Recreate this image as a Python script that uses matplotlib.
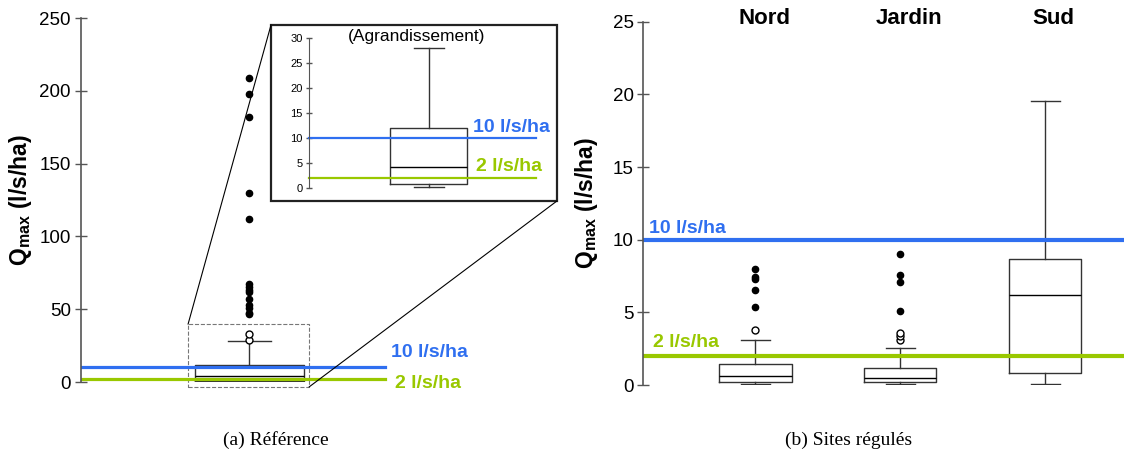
import matplotlib
matplotlib.use("Agg")
import matplotlib.pyplot as plt
from matplotlib.patches import Rectangle, ConnectionPatch

plt.rcParams['font.family'] = ['Liberation Sans', 'DejaVu Sans']
plt.rcParams['mathtext.fontset'] = 'custom'
plt.rcParams['mathtext.rm'] = 'Liberation Sans'
plt.rcParams['mathtext.bf'] = 'Liberation Sans:bold'

# --- data ---
# (a) reference site: box stats + outliers
ref_stats = dict(q1=0.8, med=4.1, q3=11.9, whislo=0.2, whishi=28.0)
ref_open = [28.8, 33.0]
ref_far = [209, 198, 182, 130, 112, 67.5, 65.5, 63.5, 61.5, 57, 53, 51, 47.5, 46.5]

# (b) regulated sites
sites = ["Nord", "Jardin", "Sud"]
site_q1 = [0.2, 0.2, 0.8]
site_med = [0.65, 0.5, 6.2]
site_q3 = [1.42, 1.17, 8.7]
site_lo = [0.05, 0.05, 0.1]
site_hi = [3.1, 2.57, 19.55]
site_open = [[3.8], [3.1, 3.35, 3.6], []]
site_far = [[5.4, 6.55, 7.3, 7.45, 7.95], [5.1, 7.1, 7.6, 9.05], []]

thresholds = [10, 2]
thr_labels = ["10 l/s/ha", "2 l/s/ha"]
thr_colors = ["#2f6ff0", "#99c800"]

box_kw = dict(boxprops=dict(color="#333333", lw=1.0),
              whiskerprops=dict(color="#333333", lw=1.0),
              capprops=dict(color="#333333", lw=1.0),
              medianprops=dict(color="black", lw=1.0),
              flierprops=dict(marker="o", mfc="white", mec="black", ms=5, mew=1),
              manage_ticks=False)

ylab = r"$\mathbf{Q_{max}}$ (l/s/ha)"

fig = plt.figure(figsize=(11.24, 4.57), dpi=100)

# ---------------- (a) Référence ----------------
ax = fig.add_axes([0.0721, 0.1641, 0.4262, 0.7965])
ax.set_xlim(0, 1)
ax.set_ylim(0, 250)
ax.set_yticks(range(0, 251, 50))
ax.set_xticks([])
for s in ["top", "right", "bottom"]:
    ax.spines[s].set_visible(False)
ax.spines["left"].set_color("#555555")
ax.spines["left"].set_linewidth(1.2)
ax.tick_params(axis="y", direction="inout", length=8.5, width=1, color="#555555",
               labelsize=13.5, pad=3)
ax.set_ylabel(ylab, fontsize=16.5, fontweight="bold")
ax.yaxis.set_label_coords(-0.098, 0.5)

st = dict(ref_stats, fliers=ref_open)
ax.bxp([st], positions=[0.351], widths=0.2276, capwidths=0.09, **box_kw)
ax.plot([0.351] * len(ref_far), ref_far, "o", color="black", ms=4.5)

ytr = ax.get_yaxis_transform()
for val, lab, col, ly, lx in zip(thresholds, thr_labels, thr_colors, [20.5, -0.7], [0.647, 0.656]):
    ax.axhline(val, xmin=0, xmax=0.635, color=col, lw=2.3)
    ax.text(lx, ly, lab, transform=ytr, color=col, fontsize=14, fontweight="bold",
            va="center", ha="left", clip_on=False)

rx0, rx1, ry0, ry1 = 0.2234, 0.476, -3.4, 39.7
ax.add_patch(Rectangle((rx0, ry0), rx1 - rx0, ry1 - ry0, transform=ytr, fill=False,
                       ls="--", lw=0.8, ec="#777777", clip_on=False))

# inset (zoom)
axi = fig.add_axes([0.2411, 0.5602, 0.2544, 0.3851])
axi.set_xlim(0, 1)
axi.set_ylim(-2.67, 32.67)
axi.set_xticks([])
axi.set_yticks(range(0, 31, 5))
for s in ["top", "right", "bottom"]:
    axi.spines[s].set_visible(False)
axi.spines["left"].set_position(("axes", 0.1329))
axi.spines["left"].set_bounds(0, 30)
axi.spines["left"].set_color("#555555")
axi.tick_params(axis="y", direction="inout", length=5, width=1, color="#555555",
                labelsize=8, pad=2)
axi.add_patch(Rectangle((0, 0), 1, 1, transform=axi.transAxes, fill=False,
                        lw=1.6, ec="#222222", clip_on=False))
axi.bxp([dict(ref_stats, fliers=[])], positions=[0.5524], widths=0.269, capwidths=0.108,
        **box_kw)
ytri = axi.get_yaxis_transform()
for val, lab, col, ly, lx in zip(thresholds, thr_labels, thr_colors, [12.0, 4.2], [0.705, 0.717]):
    axi.plot([0.1329, 0.9266], [val, val], transform=ytri, color=col, lw=1.6)
    axi.text(lx, ly, lab, transform=ytri, color=col,
             fontsize=14, fontweight="bold", va="center", ha="left")
axi.text(0.51, 0.932, "(Agrandissement)", transform=axi.transAxes, fontsize=12.5,
         ha="center", va="center")

for xyA, xyB in [((rx0, ry1), (0, 1)), ((rx1, ry0), (1, 0))]:
    fig.add_artist(ConnectionPatch(xyA=xyA, coordsA=ytr, xyB=xyB, coordsB=axi.transAxes,
                                   color="black", lw=0.8))

# ---------------- (b) Sites régulés ----------------
ax2 = fig.add_axes([0.5725, 0.1575, 0.4275, 0.795])
ax2.set_xlim(0.228, 3.545)
ax2.set_ylim(0, 25)
ax2.set_yticks(range(0, 26, 5))
ax2.set_xticks([])
for s in ["top", "right", "bottom"]:
    ax2.spines[s].set_visible(False)
ax2.spines["left"].set_color("#555555")
ax2.spines["left"].set_linewidth(1.2)
ax2.tick_params(axis="y", direction="inout", length=8, width=1, color="#555555",
                labelsize=13.5, pad=3)
ax2.set_ylabel(ylab, fontsize=16.5, fontweight="bold")
ax2.yaxis.set_label_coords(-0.091, 0.5)

pos = [1, 2, 3]
stats = [dict(q1=a, med=b, q3=c, whislo=d, whishi=e, fliers=f)
         for a, b, c, d, e, f in zip(site_q1, site_med, site_q3, site_lo, site_hi, site_open)]
ax2.bxp(stats, positions=pos, widths=0.5, capwidths=0.2, **box_kw)
for p, far in zip(pos, site_far):
    ax2.plot([p] * len(far), far, "o", color="black", ms=4.5)

xtr = ax2.get_xaxis_transform()
for p, name in zip(pos, sites):
    ax2.text(p + 0.06, 1.01, name, transform=xtr, fontsize=16, fontweight="bold",
             ha="center", va="center")

for val, lab, col, ly, lx in zip(thresholds, thr_labels, thr_colors, [10.8, 2.9], [0.266, 0.297]):
    ax2.axhline(val, color=col, lw=3)
    ax2.text(lx, ly, lab, color=col, fontsize=14, fontweight="bold", va="center", ha="left")

fig.text(0.2456, 0.037, "(a) Référence", family="Liberation Serif", fontsize=14,
         ha="center", va="center")
fig.text(0.7553, 0.037, "(b) Sites régulés", family="Liberation Serif", fontsize=14,
         ha="center", va="center")

fig.savefig("out.png", dpi=100)
